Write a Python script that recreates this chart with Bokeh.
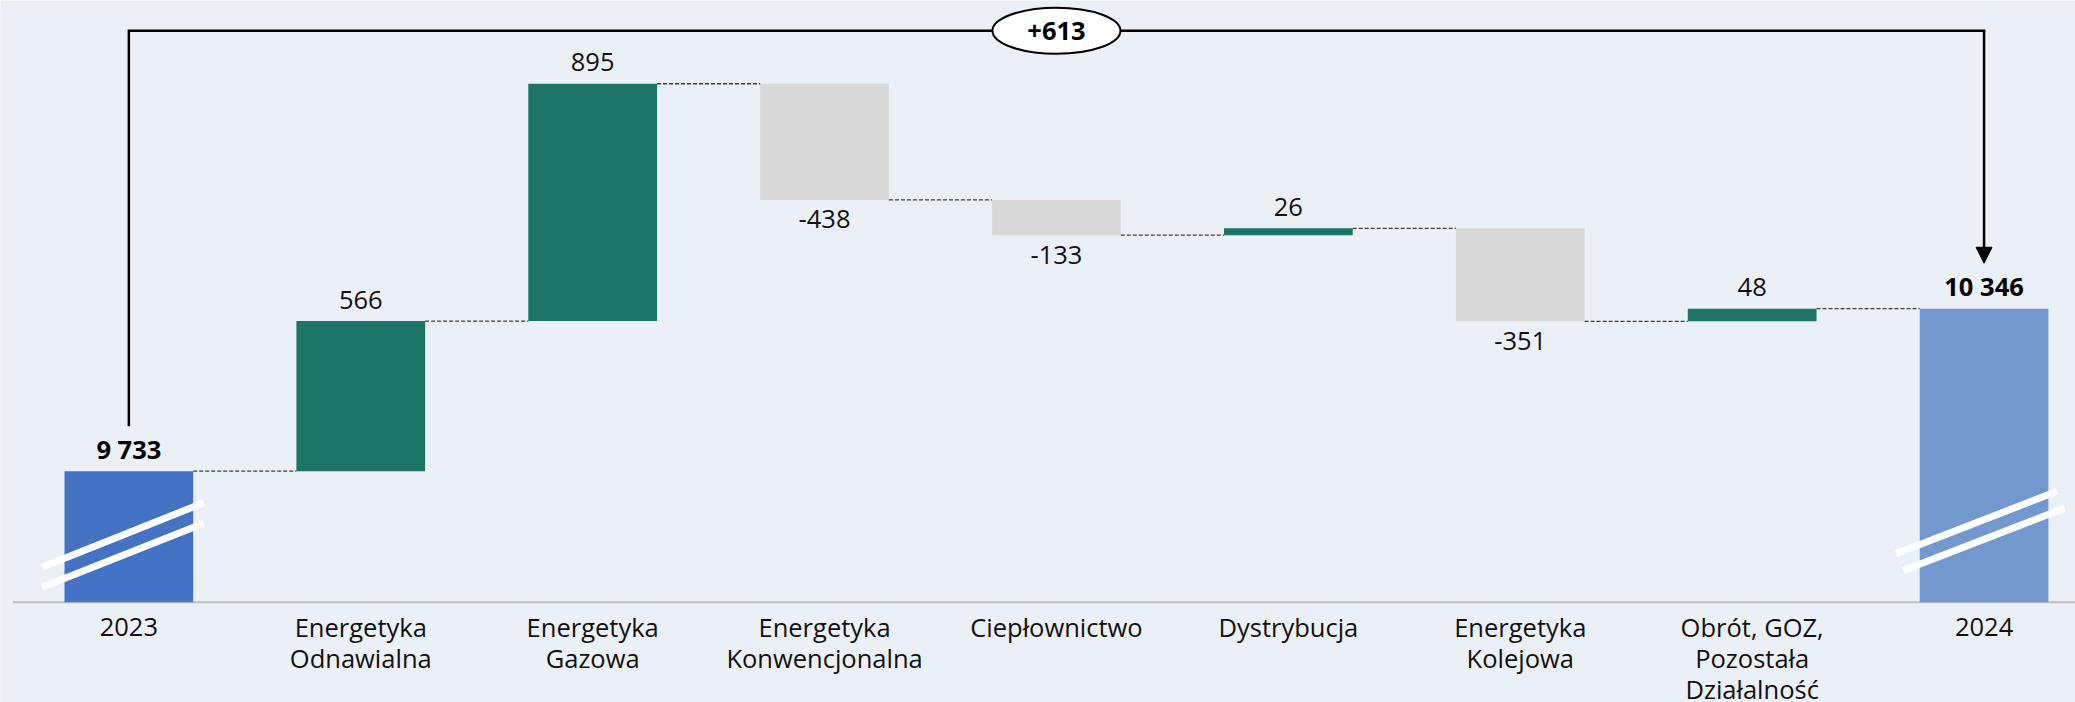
from bokeh.plotting import figure
from bokeh.models import Range1d, ColumnDataSource, Arrow, NormalHead
from bokeh.core.properties import value
from bokeh.embed import file_html
from bokeh.resources import INLINE

# ---------------- data ----------------
categories = [
    "2023",
    "Energetyka\nOdnawialna",
    "Energetyka\nGazowa",
    "Energetyka\nKonwencjonalna",
    "Ciepłownictwo",
    "Dystrybucja",
    "Energetyka\nKolejowa",
    "Obrót, GOZ,\nPozostała\nDziałalność",
    "2024",
]
start_total = 9733
deltas = [566, 895, -438, -133, 26, -351, 48]
end_total = 10346
value_labels = ["9 733", "566", "895", "-438", "-133", "26", "-351", "48", "10 346"]
change_label = "+613"
axis_base = 9239  # value where the (broken) axis starts

# ---------------- styles ----------------
BG = "#EBEFF6"
C_START = "#4472C4"
C_END = "#7398CE"
C_UP = "#1B7464"
C_DOWN = "#D9D9D9"
FONT = "Open Sans"
FS = "25.5px"
TS = -10  # text baseline correction (px)

W, H = 2075, 702
PX_PER_CAT = 231.9
UPP = 3.771  # value units per pixel
x0 = -0.5535
y_top = 11508.0

p = figure(width=W, height=H, output_backend="svg", toolbar_location=None,
           x_range=Range1d(x0, x0 + W / PX_PER_CAT),
           y_range=Range1d(y_top - H * UPP, y_top),
           x_axis_type=None, y_axis_type=None, min_border=0,
           background_fill_color=BG, border_fill_color=BG,
           outline_line_color=None)

n = len(categories)
xs = list(range(n))

# waterfall geometry
bottoms, tops, colors, levels = [], [], [], []
bottoms.append(axis_base); tops.append(start_total); colors.append(C_START)
levels.append(start_total)
run = start_total
for d in deltas:
    nxt = run + d
    bottoms.append(min(run, nxt)); tops.append(max(run, nxt))
    colors.append(C_UP if d > 0 else C_DOWN)
    run = nxt
    levels.append(run)
bottoms.append(axis_base); tops.append(end_total); colors.append(C_END)
levels.append(end_total)

BW = 0.555
# axis line
p.segment(x0=[-0.5], y0=[axis_base], x1=[x0 + W / PX_PER_CAT], y1=[axis_base],
          line_color="#BFBFBF", line_width=2)

p.vbar(x=xs, bottom=bottoms, top=tops, width=BW, fill_color=colors,
       line_color=None)

# connectors
cx0 = [i + BW / 2 for i in range(n - 1)]
cx1 = [i + 1 - BW / 2 for i in range(n - 1)]
cy = levels[:-1]
p.segment(x0=cx0, y0=cy, x1=cx1, y1=cy, line_color="#404040",
          line_width=1.3, line_dash="4 2")

# axis break marks (white double slashes)
brk_x0 = [-0.374, -0.374, 8 - 0.379, 8 - 0.348]
brk_x1 = [0.323, 0.323, 8 + 0.316, 8 + 0.347]
brk_y0 = [axis_base + 132, axis_base + 56.6, axis_base + 182.5, axis_base + 119.5]
brk_y1 = [axis_base + 375, axis_base + 298, axis_base + 418.6, axis_base + 354.5]
p.segment(x0=brk_x0, y0=brk_y0, x1=brk_x1, y1=brk_y1, line_color="white",
          line_width=7)

# value labels
pos_idx = [i for i in range(n) if i in (0, n - 1) or deltas[i - 1] > 0]
neg_idx = [i for i in range(1, n - 1) if deltas[i - 1] < 0]
reg_pos = [i for i in pos_idx if i not in (0, n - 1)]
p.text(x=reg_pos, y=[tops[i] for i in reg_pos], text=[value_labels[i] for i in reg_pos],
       text_align="center", text_baseline="alphabetic", y_offset=-11.5 + TS,
       text_font=value(FONT), text_font_size=value(FS), text_color="#111111")
p.text(x=neg_idx, y=[bottoms[i] for i in neg_idx], text=[value_labels[i] for i in neg_idx],
       text_align="center", text_baseline="alphabetic", y_offset=29.5 + TS,
       text_font=value(FONT), text_font_size=value(FS), text_color="#111111")
p.text(x=[0, n - 1], y=[tops[0], tops[-1]], text=[value_labels[0], value_labels[-1]],
       text_align="center", text_baseline="alphabetic", y_offset=-12.5 + TS,
       text_font=value(FONT), text_font_size=value(FS), text_font_style="bold",
       text_color="black")

# category labels (one glyph per line)
lx, ly, lt, lo = [], [], [], []
for i, c in enumerate(categories):
    for k, line in enumerate(c.split("\n")):
        lx.append(i); ly.append(axis_base); lt.append(line); lo.append(35 + TS + 30.7 * k)
src = ColumnDataSource(dict(x=lx, y=ly, t=lt, o=lo))
p.text(x="x", y="y", text="t", y_offset="o", source=src, text_align="center",
       text_baseline="alphabetic", text_font=value(FONT), text_font_size=value(FS),
       text_color="#111111")

# bracket with total change
bracket_y = start_total + 440.4 * UPP
left_stem_bottom = start_total + 46.3 * UPP
tip_y = end_total + 45.4 * UPP
p.line(x=[0, 0, n - 1], y=[left_stem_bottom, bracket_y, bracket_y], line_color="black",
       line_width=2.5, line_join="miter", line_cap="square")
p.add_layout(Arrow(end=NormalHead(size=16, fill_color="black", line_color="black", line_width=1),
                   x_start=n - 1, y_start=bracket_y, x_end=n - 1, y_end=tip_y,
                   line_color="black", line_width=2.5))
mid = (n - 1) / 2
p.ellipse(x=[mid], y=[bracket_y], width=128, height=46, width_units="screen",
          height_units="screen", fill_color="white", line_color="black", line_width=2)
p.text(x=[mid], y=[bracket_y], text=[change_label], text_align="center",
       text_baseline="middle", text_font=value(FONT), text_font_size=value(FS),
       text_font_style="bold", text_color="black")

html = file_html(p, INLINE)
html = html.replace("<body>", '<body style="background-color: %s;">' % BG, 1)
open("out.html", "w").write(html)
